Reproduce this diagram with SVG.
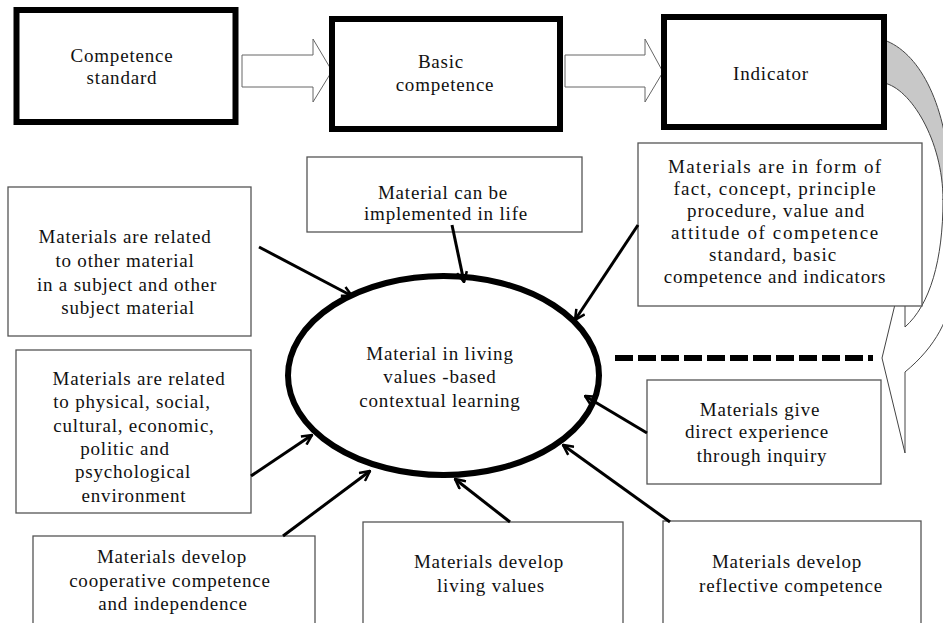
<svg xmlns="http://www.w3.org/2000/svg" width="943" height="623" viewBox="0 0 943 623">
<defs>
<style>
text{font-family:"Liberation Serif","Times New Roman",serif;font-size:19px;fill:#111;text-anchor:middle;letter-spacing:0.8px}
.thick{fill:#fff;stroke:#000;stroke-width:6}
.thin{fill:#fff;stroke:#555;stroke-width:1.3}
.blk{fill:#fff;stroke:#666;stroke-width:1}
.conn{stroke:#000;stroke-width:3;fill:none;marker-end:url(#ah)}
</style>
<marker id="ah" viewBox="0 0 12 12" refX="11" refY="6" markerWidth="12" markerHeight="12" markerUnits="userSpaceOnUse" orient="auto">
<path d="M1,1 L11,6 L1,11" fill="none" stroke="#000" stroke-width="2.5"/>
</marker>
</defs>
<rect width="943" height="623" fill="#fff"/>

<g id="curved-arrow">
<path d="M884,40 C918,52 945,100 950,175 L943,200 C943,140 910,88 884,83 Z" fill="#c8c8c8" stroke="#444" stroke-width="1"/>
<path d="M943,200 C943,260 930,305 905,327 L905,263 L882,358 L905,453 L905,372 C968,320 958,260 950,175 Z" fill="#fff" stroke="#444" stroke-width="1"/>
</g>

<g id="block-arrows">
<polygon class="blk" points="242,55 313,55 313,39 332,71 313,102 313,87 242,87"/>
<polygon class="blk" points="565,55 645,55 645,39 663,72 645,102 645,87 565,87"/>
</g>

<g id="competence-standard">
<rect class="thick" x="16.5" y="10" width="219" height="112"/>
<text x="122" y="62">Competence</text>
<text x="122" y="84">standard</text>
</g>
<g id="basic-competence">
<rect class="thick" x="332" y="19" width="228" height="110"/>
<text x="441" y="68">Basic</text>
<text x="445" y="91">competence</text>
</g>
<g id="indicator">
<rect class="thick" x="664" y="17" width="220" height="110"/>
<text x="771" y="80">Indicator</text>
</g>

<g id="implemented">
<rect class="thin" x="307" y="157" width="275" height="75"/>
<text x="443" y="199">Material can be</text>
<text x="446" y="220">implemented in life</text>
</g>

<g id="form-of">
<rect class="thin" x="638" y="143" width="284" height="163"/>
<text x="775" y="173" textLength="214" lengthAdjust="spacing">Materials are in form of</text>
<text x="775" y="195" textLength="203" lengthAdjust="spacing">fact, concept, principle</text>
<text x="776" y="217" textLength="178" lengthAdjust="spacing">procedure, value and</text>
<text x="775" y="239" textLength="208" lengthAdjust="spacing">attitude of competence</text>
<text x="773" y="261" textLength="128" lengthAdjust="spacing">standard, basic</text>
<text x="775" y="283">competence and  indicators</text>
</g>

<g id="related-other">
<rect class="thin" x="8" y="187" width="243" height="149"/>
<text x="125" y="243">Materials are related</text>
<text x="125" y="267">to other material</text>
<text x="127" y="291">in a subject and other</text>
<text x="128" y="314">subject material</text>
</g>

<g id="related-environment">
<rect class="thin" x="16" y="350" width="235" height="163"/>
<text x="139" y="385">Materials are related</text>
<text x="132" y="408">to physical, social,</text>
<text x="134" y="432">cultural, economic,</text>
<text x="125" y="455">politic and</text>
<text x="133" y="478">psychological</text>
<text x="134" y="502">environment</text>
</g>

<g id="cooperative">
<rect class="thin" x="33" y="536" width="282" height="100"/>
<text x="172" y="563">Materials develop</text>
<text x="170" y="587">cooperative competence</text>
<text x="173" y="610">and independence</text>
</g>

<g id="living-values">
<rect class="thin" x="363" y="522" width="260" height="110"/>
<text x="489" y="568">Materials develop</text>
<text x="491" y="592">living values</text>
</g>

<g id="reflective">
<rect class="thin" x="663" y="521" width="258" height="110"/>
<text x="787" y="568">Materials develop</text>
<text x="791" y="592">reflective competence</text>
</g>

<g id="direct-experience">
<rect class="thin" x="647" y="380" width="234" height="104"/>
<text x="760" y="416">Materials give</text>
<text x="757" y="438">direct experience</text>
<text x="762" y="462">through inquiry</text>
</g>

<g id="center">
<ellipse cx="443.5" cy="375.5" rx="155.5" ry="99.5" fill="#fff" stroke="#000" stroke-width="6"/>
<text x="440" y="360">Material in living</text>
<text x="440" y="383">values -based</text>
<text x="440" y="407">contextual learning</text>
</g>

<g id="connectors">
<line class="conn" x1="259" y1="247" x2="352" y2="296"/>
<line class="conn" x1="452" y1="225" x2="464" y2="282"/>
<line class="conn" x1="638" y1="225" x2="575" y2="320"/>
<line class="conn" x1="251" y1="476" x2="312" y2="435"/>
<line class="conn" x1="283" y1="536" x2="370" y2="471"/>
<line class="conn" x1="510" y1="522" x2="455" y2="479"/>
<line class="conn" x1="670" y1="522" x2="563" y2="445"/>
<line class="conn" x1="647" y1="433" x2="585" y2="396"/>
<line x1="615" y1="358" x2="873" y2="358" stroke="#000" stroke-width="6" stroke-dasharray="18 5"/>
</g>
</svg>
